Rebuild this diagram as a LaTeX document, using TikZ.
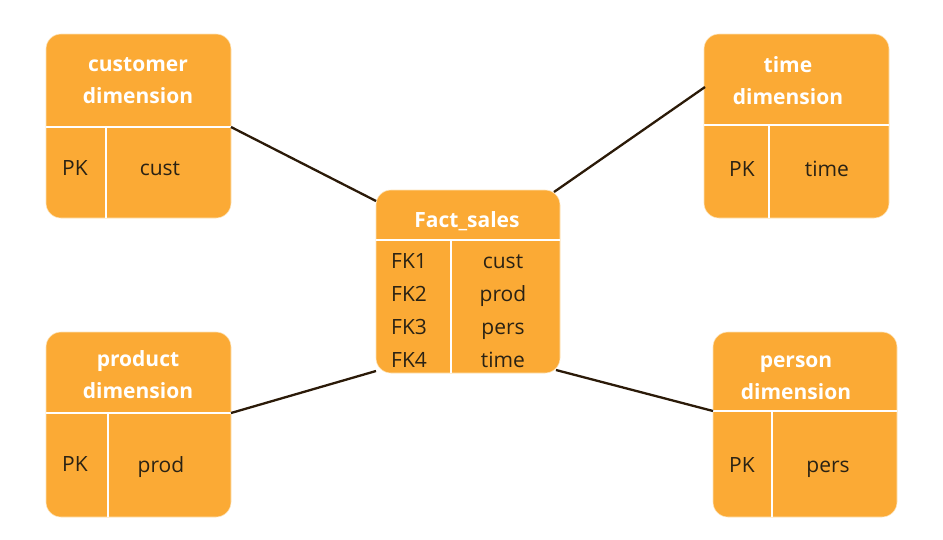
\documentclass[tikz,border=0pt]{standalone}
\usepackage{fontspec}
\setmainfont{Open Sans}
\definecolor{orng}{HTML}{FBAA35}
\definecolor{edge}{HTML}{FDE3B8}
\definecolor{conn}{HTML}{2B1A08}
\definecolor{txt}{HTML}{2A2214}
\begin{document}
\begin{tikzpicture}[x=1pt,y=-1pt,
  tbl/.style={fill=orng, draw=edge, line width=0.6pt, rounded corners=15pt, anchor=north west, inner sep=0pt, outer sep=0pt},
  divline/.style={draw=white, line width=2pt},
  head/.style={text=white, font=\fontsize{21}{32}\selectfont\bfseries, align=center, inner sep=0pt},
  field/.style={text=txt, font=\fontsize{21}{25}\selectfont, inner sep=0pt, anchor=base},
  conline/.style={draw=conn, line width=2.3pt}]
\useasboundingbox (0,0) rectangle (943,539);
% ---- tables
\node[tbl, minimum width=185pt, minimum height=184pt] (cust) at (46,34) {};
\node[tbl, minimum width=185pt, minimum height=184pt] (time) at (704,34) {};
\node[tbl, minimum width=185pt, minimum height=185pt] (prod) at (46,332) {};
\node[tbl, minimum width=184pt, minimum height=185pt] (pers) at (713,332) {};
\node[tbl, minimum width=184pt, minimum height=183pt] (fact) at (376,190) {};
% ---- dividers
\coordinate (custL) at (46,127);  \coordinate (custR) at (231,127);
\coordinate (timeL) at (704,125); \coordinate (timeR) at (889,125);
\coordinate (prodL) at (46,413);  \coordinate (prodR) at (231,413);
\coordinate (persL) at (713,411); \coordinate (persR) at (897,411);
\coordinate (factL) at (376,240); \coordinate (factR) at (560,240);
\draw[divline] (custL) -- (custR);
\draw[divline] (timeL) -- (timeR);
\draw[divline] (prodL) -- (prodR);
\draw[divline] (persL) -- (persR);
\draw[divline] (factL) -- (factR);
\coordinate (custV) at (106,127); \coordinate (custVb) at (106,218);
\coordinate (timeV) at (769,125); \coordinate (timeVb) at (769,218);
\coordinate (prodV) at (108,413); \coordinate (prodVb) at (108,517);
\coordinate (persV) at (772,411); \coordinate (persVb) at (772,517);
\coordinate (factV) at (451,240); \coordinate (factVb) at (451,373);
\draw[divline] (custV) -- (custVb);
\draw[divline] (timeV) -- (timeVb);
\draw[divline] (prodV) -- (prodVb);
\draw[divline] (persV) -- (persVb);
\draw[divline] (factV) -- (factVb);
% ---- headers
\node[head] (custH) at (138,81) {customer\\dimension};
\node[head] (timeH) at (788,81) {time\\dimension};
\node[head] (prodH) at (138,375) {product\\dimension};
\node[head] (persH) at (796,378) {person\\dimension};
\node[head, anchor=base] (factH) at (467,227) {Fact\_sales};
% ---- fields
\node[field] (custPK) at (75,175) {PK};
\node[field] (custF)  at (160,175) {cust};
\node[field] (timePK) at (742,176) {PK};
\node[field] (timeF)  at (827,176) {time};
\node[field] (prodPK) at (75,471) {PK};
\node[field] (prodF)  at (161,472) {prod};
\node[field] (persPK) at (742,472) {PK};
\node[field] (persF)  at (828,472) {pers};
\node[field, anchor=base west] (fk1) at (391,268) {FK1};
\node[field, anchor=base west] (fk2) at (391,301) {FK2};
\node[field, anchor=base west] (fk3) at (391,334) {FK3};
\node[field, anchor=base west] (fk4) at (391,367) {FK4};
\node[field] (fc1) at (503,268) {cust};
\node[field] (fc2) at (503,301) {prod};
\node[field] (fc3) at (503,334) {pers};
\node[field] (fc4) at (503,367) {time};
% ---- connectors
\coordinate (factNW) at (376,201);
\coordinate (factNE) at (554,192);
\coordinate (factSW) at (376,371);
\coordinate (factSE) at (556,370);
\coordinate (timeW) at (705,87);
\draw[conline] (custR) -- (factNW);
\draw[conline] (timeW) -- (factNE);
\draw[conline] (prodR) -- (factSW);
\draw[conline] (persL) -- (factSE);
\end{tikzpicture}
\end{document}
